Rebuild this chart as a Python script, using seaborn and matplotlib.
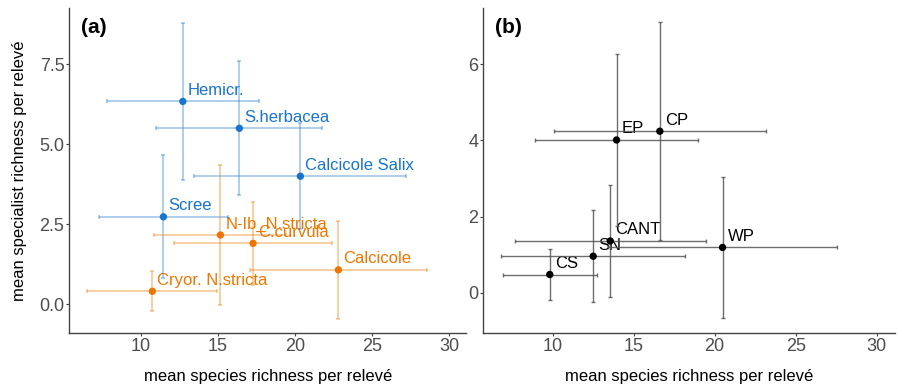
import matplotlib
matplotlib.use("Agg")
import matplotlib.pyplot as plt
import seaborn as sns
import pandas as pd

# Panel (a)
a_labels = ["Hemicr.", "S.herbacea", "Calcicole Salix", "Scree",
            "N-Ib_N.stricta", "C.curvula", "Calcicole", "Cryor. N.stricta"]
a_group = ["blue", "blue", "blue", "blue", "orange", "orange", "orange", "orange"]
a_x = [12.71, 16.38, 20.34, 11.45, 15.15, 17.27, 22.81, 10.73]
a_y = [6.34, 5.50, 4.00, 2.73, 2.16, 1.90, 1.07, 0.40]
a_xerr = [4.95, 5.38, 6.88, 4.17, 4.29, 5.13, 5.76, 4.23]
a_yerr = [2.45, 2.10, 1.65, 1.93, 2.19, 1.29, 1.53, 0.63]

# Panel (b)
b_labels = ["CP", "EP", "CANT", "SN", "CS", "WP"]
b_x = [16.62, 13.95, 13.56, 12.51, 9.83, 20.49]
b_y = [4.24, 4.01, 1.36, 0.96, 0.48, 1.19]
b_xerr = [6.54, 5.00, 5.90, 5.66, 2.89, 7.08]
b_yerr = [2.86, 2.25, 1.48, 1.20, 0.68, 1.85]

sns.set_theme(style="ticks")
plt.rcParams['font.family'] = ['Liberation Sans', 'DejaVu Sans']

colors = {"blue": "#1874CD", "orange": "#EE7600"}

fig = plt.figure(figsize=(8.98, 3.87), dpi=100)
ax1 = fig.add_axes([0.0772, 0.140, 0.4418, 0.839])
ax2 = fig.add_axes([0.538, 0.140, 0.4587, 0.839])

dfa = pd.DataFrame({"x": a_x, "y": a_y, "xerr": a_xerr, "yerr": a_yerr,
                    "label": a_labels, "group": a_group})
dfb = pd.DataFrame({"x": b_x, "y": b_y, "xerr": b_xerr, "yerr": b_yerr,
                    "label": b_labels})

for _, r in dfa.iterrows():
    ax1.errorbar(r["x"], r["y"], xerr=r["xerr"], yerr=r["yerr"], fmt="none",
                 ecolor=colors[r["group"]], alpha=0.45, elinewidth=1.1,
                 capsize=1.5, capthick=1.1, zorder=2)
sns.scatterplot(data=dfa, x="x", y="y", hue="group", palette=colors, s=28,
                edgecolor="none", legend=False, ax=ax1, zorder=3)
for _, r in dfa.iterrows():
    ax1.annotate(r["label"], (r["x"], r["y"]), xytext=(5, 11),
                 textcoords="offset pixels", ha="left", va="center",
                 fontsize=12, color=colors[r["group"]], zorder=1)

for _, r in dfb.iterrows():
    ax2.errorbar(r["x"], r["y"], xerr=r["xerr"], yerr=r["yerr"], fmt="none",
                 ecolor="#555555", alpha=0.85, elinewidth=1.0,
                 capsize=1.5, capthick=1.0, zorder=2)
sns.scatterplot(data=dfb, x="x", y="y", color="black", s=28,
                edgecolor="none", legend=False, ax=ax2, zorder=3)
for _, r in dfb.iterrows():
    ax2.annotate(r["label"], (r["x"], r["y"]), xytext=(5, 11),
                 textcoords="offset pixels", ha="left", va="center",
                 fontsize=12, color="black", zorder=1)

ax1.set_xlim(5.34, 31.1)
ax1.set_ylim(-0.9, 9.26)
ax1.set_xticks([10, 15, 20, 25, 30])
ax1.set_yticks([0, 2.5, 5, 7.5])
ax1.set_yticklabels(["0.0", "2.5", "5.0", "7.5"])
ax1.set_ylabel("mean specialist richness per relevé", fontsize=12,
               labelpad=9, color="black")
ax1.set_xlabel("mean species richness per relevé", fontsize=12,
               labelpad=10, color="black")

ax2.set_xlim(5.72, 31.13)
ax2.set_ylim(-1.05, 7.47)
ax2.set_xticks([10, 15, 20, 25, 30])
ax2.set_yticks([0, 2, 4, 6])
ax2.set_ylabel("")
ax2.set_xlabel("mean species richness per relevé", fontsize=12,
               labelpad=10, color="black")

for ax, lab in [(ax1, "(a)"), (ax2, "(b)")]:
    sns.despine(ax=ax)
    for s in ["left", "bottom"]:
        ax.spines[s].set_color("#444444")
        ax.spines[s].set_linewidth(1.0)
    ax.tick_params(axis="both", labelsize=13, labelcolor="#4D4D4D",
                   color="#444444", length=2.5, width=0.8, pad=1)
    ax.text(0.03, 0.97, lab, transform=ax.transAxes, fontsize=15,
            fontweight="bold", ha="left", va="top", color="black")

fig.savefig("out.png", dpi=100)
